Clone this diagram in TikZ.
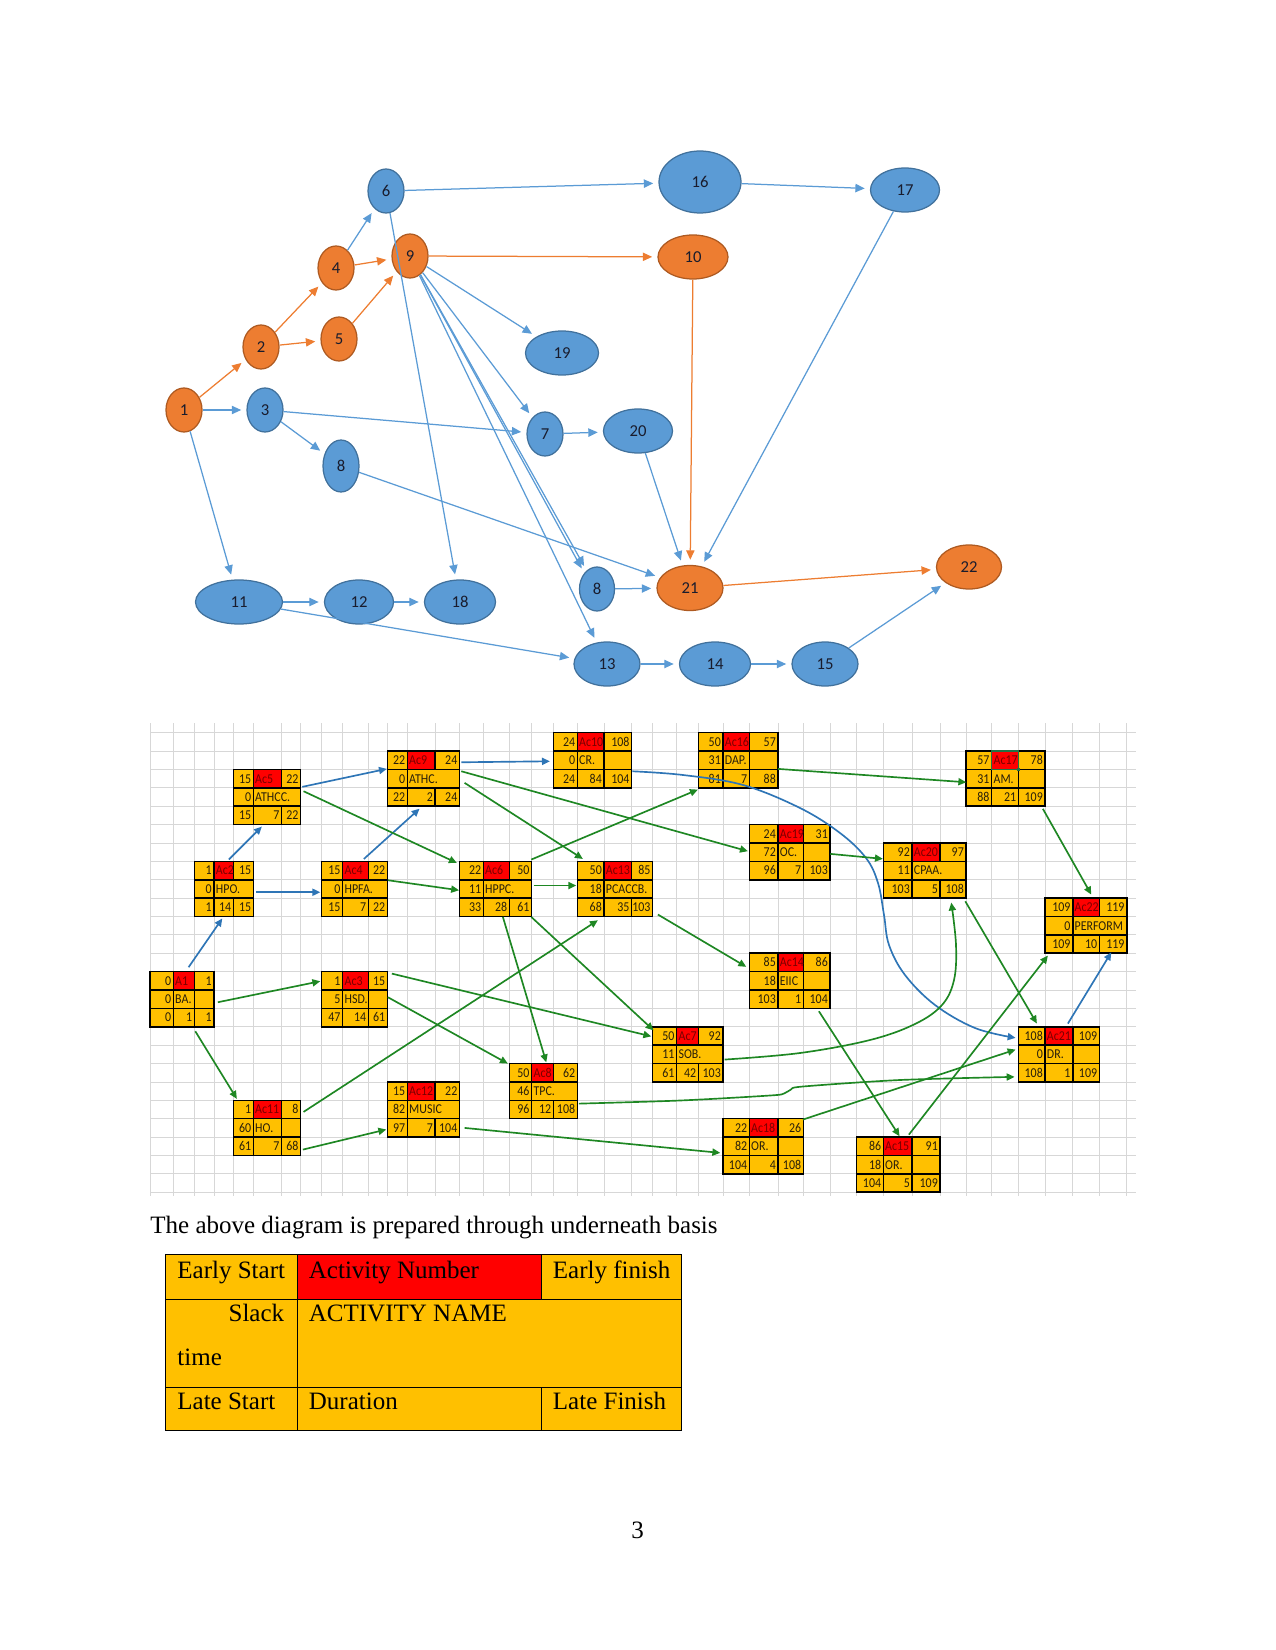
\documentclass[tikz,border=0pt]{standalone}
\usepackage{fontspec}
\setmainfont{Liberation Serif}
\newfontfamily\calib{Carlito}
\newfontfamily\cellf[FakeStretch=0.88]{Carlito}
\usetikzlibrary{shapes.geometric,arrows.meta,calc,fit}
\definecolor{nodeorange}{RGB}{237,125,49}
\definecolor{orangeline}{RGB}{174,90,33}
\definecolor{nodeblue}{RGB}{91,155,213}
\definecolor{blueline}{RGB}{65,113,156}
\definecolor{nodetext}{RGB}{25,28,45}
\definecolor{cellgold}{RGB}{255,192,0}
\definecolor{actred}{RGB}{255,0,0}
\definecolor{actdark}{RGB}{120,0,0}
\definecolor{celltext}{RGB}{40,30,10}
\definecolor{gridgray}{RGB}{215,215,215}
\definecolor{conblue}{RGB}{46,117,182}
\definecolor{congreen}{RGB}{30,135,35}
\definecolor{selgreen}{RGB}{33,115,70}

\newcommand\abox[7]{%
  \def\BN{#1}\def\XA{#2}\def\XB{#3}\def\XC{#4}\def\XD{#5}%
  \pgfmathsetmacro\YA{#6}\pgfmathsetmacro\YB{#6+18.38}\pgfmathsetmacro\YC{#6+36.76}\pgfmathsetmacro\YD{#6+55.14}%
  \fill[cellgold] (#2,\YA) rectangle (#5,\YD);
  \fill[actred] (#3,\YA) rectangle (#4,\YB);
  \draw[boxline] (#2,\YA) rectangle (#5,\YD) (#2,\YB) -- (#5,\YB) (#2,\YC) -- (#5,\YC) (#3,\YA) -- (#3,\YD) (#4,\YA) -- (#4,\YB) (#4,\YC) -- (#4,\YD);
  \ifnum#7=1 \draw[boxline] (#4,\YB) -- (#4,\YC);\fi
  \node[fit={(#2,\YA) (#5,\YD)}, inner sep=0pt] (#1) {};
}
\newcommand\atxt[8]{%
  \pgfmathsetmacro\RA{\YA+9.19}\pgfmathsetmacro\RB{\YB+9.19}\pgfmathsetmacro\RC{\YC+9.19}%
  \node[cnum] (\BN-es) at (\XB-1.8,\RA) {#1};
  \node[cact] (\BN-an) at (\XB+1.5,\RA) {#2};
  \node[cnum] (\BN-ef) at (\XD-1.8,\RA) {#3};
  \node[cnum] (\BN-sl) at (\XB-1.8,\RB) {#4};
  \node[cname] (\BN-nm) at (\XB+1.5,\RB) {#5};
  \node[cnum] (\BN-ls) at (\XB-1.8,\RC) {#6};
  \node[cnum] (\BN-du) at (\XC-1.8,\RC) {#7};
  \node[cnum] (\BN-lf) at (\XD-1.8,\RC) {#8};
}

\begin{document}
\begin{tikzpicture}[x=0.48pt,y=-0.48pt,
  onode/.style 2 args={ellipse, draw=orangeline, fill=nodeorange, line width=0.6pt, inner sep=0pt, minimum width=#1*0.48pt, minimum height=#2*0.48pt, font=\calib\fontsize{8}{9}\selectfont, text=nodetext},
  bnode/.style 2 args={ellipse, draw=blueline, fill=nodeblue, line width=0.6pt, inner sep=0pt, minimum width=#1*0.48pt, minimum height=#2*0.48pt, font=\calib\fontsize{8}{9}\selectfont, text=nodetext},
  oedge/.style={draw=nodeorange, line width=0.6pt, -{Triangle[length=4.5pt,width=4pt]}, shorten >=2.5pt},
  bedge/.style={draw=nodeblue, line width=0.6pt, -{Triangle[length=4.5pt,width=4pt]}, shorten >=2.5pt},
  gcon/.style={draw=congreen, line width=0.8pt, -{Triangle[length=3.8pt,width=3.4pt]}},
  bcon/.style={draw=conblue, line width=0.8pt, -{Triangle[length=3.8pt,width=3.4pt]}},
  boxline/.style={draw=black, line width=0.75pt},
  gridline/.style={draw=gridgray, line width=0.4pt},
  cnum/.style={anchor=east, inner sep=0pt, font=\cellf\fontsize{6.5}{7}\selectfont, text height=4.2pt, text depth=0pt, text=celltext},
  cact/.style={anchor=west, inner sep=0pt, font=\cellf\fontsize{6.5}{7}\selectfont, text height=4.2pt, text depth=0pt, text=actdark},
  cname/.style={anchor=west, inner sep=0pt, font=\cellf\fontsize{6.5}{7}\selectfont, text height=4.2pt, text depth=0pt, text=celltext},
  ttext/.style={inner sep=0pt, font=\fontsize{12}{14}\selectfont, text=black},
  tline/.style={draw=black, line width=0.45pt}
]
\useasboundingbox (0,0) rectangle (1275,1650);

% ---------------- top network ----------------
\node[onode={36}{44}] (n1) at (184,410) {1};
\node[onode={36}{44}] (n2) at (261,347) {2};
\node[bnode={36}{44}] (n3) at (265,410) {3};
\node[onode={36}{44}] (n4) at (336,268) {4};
\node[onode={36}{44}] (n5) at (339,339) {5};
\node[bnode={36}{44}] (n6) at (386,191) {6};
\node[onode={36}{44}] (n9) at (410,256) {9};
\node[onode={70}{44}] (n10) at (693,257) {10};
\node[bnode={82}{62}] (n16) at (700,182) {16};
\node[bnode={69}{44}] (n17) at (905,190) {17};
\node[bnode={73}{44}] (n19) at (562,353) {19};
\node[bnode={36}{44}] (n7) at (545,434) {7};
\node[bnode={69}{44}] (n20) at (638,431) {20};
\node[bnode={36}{52}] (n8a) at (341,466) {8};
\node[bnode={87}{44}] (n11) at (239,602) {11};
\node[bnode={69}{44}] (n12) at (359,602) {12};
\node[bnode={71}{44}] (n18) at (460,602) {18};
\node[bnode={35}{44}] (n8b) at (597,589) {8};
\node[onode={66}{45}] (n21) at (690,588) {21};
\node[onode={65}{44}] (n22) at (969,567) {22};
\node[bnode={66}{44}] (n13) at (607,664) {13};
\node[bnode={71}{44}] (n14) at (715,664) {14};
\node[bnode={66}{44}] (n15) at (825,664) {15};

\draw[oedge] (n1) -- (n2);
\draw[oedge] (n2) -- (n4);
\draw[oedge] (n2) -- (n5);
\draw[oedge] (n4) -- (n9);
\draw[oedge] (n5) -- (n9);
\draw[oedge] (n9) -- (n10);
\draw[oedge] (n10) -- (n21);
\draw[oedge] (n21) -- (n22);
\draw[bedge] (n1) -- (n3);
\draw[bedge] (n1) -- (n11);
\draw[bedge] (n3) -- (n7);
\draw[bedge] (n3) -- (n8a);
\draw[bedge] (n4) -- (n6);
\draw[bedge] (n6) -- (n16);
\draw[bedge] (n6) -- (n18);
\draw[bedge] (n16) -- (n17);
\draw[bedge] (n17) -- (n21);
\draw[bedge] (n9) -- (n19);
\draw[bedge] (n9) -- (n7);
\draw[bedge] (n9) -- (n8b);
\draw[bedge] (n9) -- (n8b.north west);
\draw[bedge] (n9) -- (n13);
\draw[bedge] (n7) -- (n20);
\draw[bedge] (n20) -- (n21);
\draw[bedge] (n8a) -- (n21);
\draw[bedge] (n8b) -- (n21);
\draw[bedge] (n11) -- (n12);
\draw[bedge] (n12) -- (n18);
\draw[bedge] (n11) -- (n13);
\draw[bedge] (n13) -- (n14);
\draw[bedge] (n14) -- (n15);
\draw[bedge] (n15) -- (n22);

% ---------------- grid ----------------
\begin{scope}
\clip (150,723) rectangle (1136,1196);
\foreach \k in {0,...,25} \draw[gridline] (150,{732.7+18.38*\k}) -- (1136,{732.7+18.38*\k});
\foreach \x in {150,173.3,194.3,214,233.3,253.3,281.7,300.7,321.7,342.7,368.3,387.3,407.3,435,459.5,483.3,509.3,531.7,553.3,577.3,604,631.7,652.7,676.7,698.3,723,749.3,778,803.3,830,856.7,883.3,912,940,966,991.7,1018.3,1045,1072.7,1099.3,1126.7}
  \draw[gridline] (\x,723) -- (\x,1196);
\end{scope}

% ---------------- activity boxes ----------------
\abox{ac1}{150}{173.3}{194.3}{214}{971.64}{1} \atxt{0}{A1}{1}{0}{BA.}{0}{1}{1}
\abox{ac2}{194.3}{214}{233.3}{253.3}{861.36}{0} \atxt{1}{Ac2}{15}{0}{HPO.}{1}{14}{15}
\abox{ac5}{233.3}{253.3}{281.7}{300.7}{769.46}{0} \atxt{15}{Ac5}{22}{0}{ATHCC.}{15}{7}{22}
\abox{ac4}{321.7}{342.7}{368.3}{387.3}{861.36}{0} \atxt{15}{Ac4}{22}{0}{HPFA.}{15}{7}{22}
\abox{ac3}{321.7}{342.7}{368.3}{387.3}{971.64}{1} \atxt{1}{Ac3}{15}{5}{HSD.}{47}{14}{61}
\abox{ac11}{233.3}{253.3}{281.7}{300.7}{1100.3}{1} \atxt{1}{Ac11}{8}{60}{HO.}{61}{7}{68}
\abox{ac9}{387.3}{407.3}{435}{459.5}{751.08}{0} \atxt{22}{Ac9}{24}{0}{ATHC.}{22}{2}{24}
\abox{ac12}{387.3}{407.3}{435}{459.5}{1081.92}{0} \atxt{15}{Ac12}{22}{82}{MUSIC}{97}{7}{104}
\abox{ac6}{459.5}{483.3}{509.3}{531.7}{861.36}{0} \atxt{22}{Ac6}{50}{11}{HPPC.}{33}{28}{61}
\abox{ac8}{509.3}{531.7}{553.3}{577.3}{1063.54}{0} \atxt{50}{Ac8}{62}{46}{TPC.}{96}{12}{108}
\abox{ac10}{553.3}{577.3}{604}{631.7}{732.7}{1} \atxt{24}{Ac10}{108}{0}{CR.}{24}{84}{104}
\abox{ac13}{577.3}{604}{631.7}{652.7}{861.36}{0} \atxt{50}{Ac13}{85}{18}{PCACCB.}{68}{35}{103}
\abox{ac7}{652.7}{676.7}{698.3}{723}{1026.78}{0} \atxt{50}{Ac7}{92}{11}{SOB.}{61}{42}{103}
\abox{ac16}{698.3}{723}{749.3}{778}{732.7}{1} \atxt{50}{Ac16}{57}{31}{DAP.}{81}{7}{88}
\abox{ac19}{749.3}{778}{803.3}{830}{824.6}{1} \atxt{24}{Ac19}{31}{72}{OC.}{96}{7}{103}
\abox{ac14}{749.3}{778}{803.3}{830}{953.26}{1} \atxt{85}{Ac14}{86}{18}{EIIC}{103}{1}{104}
\abox{ac18}{723}{749.3}{778}{803.3}{1118.68}{1} \atxt{22}{Ac18}{26}{82}{OR.}{104}{4}{108}
\abox{ac20}{883.3}{912}{940}{966}{842.98}{0} \atxt{92}{Ac20}{97}{11}{CPAA.}{103}{5}{108}
\abox{ac15}{856.7}{883.3}{912}{940}{1137.06}{1} \atxt{86}{Ac15}{91}{18}{OR.}{104}{5}{109}
\abox{ac17}{966}{991.7}{1018.3}{1045}{751.08}{1} \atxt{57}{Ac17}{78}{31}{AM.}{88}{21}{109}
\abox{ac21}{1018.3}{1045}{1072.7}{1099.3}{1026.78}{1} \atxt{108}{Ac21}{109}{0}{DR.}{108}{1}{109}
\abox{ac22}{1045}{1072.7}{1099.3}{1126.7}{898.12}{0} \atxt{109}{Ac22}{119}{0}{PERFORM}{109}{10}{119}

% selection mark on Ac17
\draw[draw=selgreen, line width=0.7pt] (991.7,751.08) rectangle (1018.3,769.46);
\fill[selgreen] (1016.6,767.8) rectangle (1020,771.2);

% ---------------- connectors ----------------
\draw[bcon] ($(ac1.north west)+(39,-4)$) -- ($(ac2.north west)+(28.4,57.5)$);
\draw[bcon] ($(ac2.north west)+(62,31.3)$) -- ($(ac4.north west)+(-1,31.3)$);
\draw[bcon] ($(ac2.north west)+(35,-1.5)$) -- ($(ac5.north west)+(29,57.5)$);
\draw[bcon] ($(ac4.north west)+(42.6,-2)$) -- ($(ac9.north west)+(32.7,58)$);
\draw[bcon] ($(ac5.north west)+(69.4,17.8)$) -- ($(ac9.north west)+(0,18.2)$);
\draw[bcon] ($(ac9.north west)+(74.4,11.6)$) -- ($(ac10.north west)+(-3,29)$);
\coordinate (c10s) at ($(ac10.north west)+(79.4,39)$);
\coordinate (c21b) at ($(ac21.north west)+(-2.3,11.5)$);
\draw[bcon] plot[smooth,tension=0.6] coordinates {(c10s) (683,775) (743,785) (800,808) (840,833) (866,858) (878,883) (884,915) (889,945) (905,975) (935,1005) (975,1028) (c21b)};
\draw[bcon] ($(ac21.north west)+(50,-2.8)$) -- ($(ac22.north west)+(66.7,54.6)$);

\draw[gcon] ($(ac1.north west)+(68.3,31)$) -- ($(ac3.north west)+(-1,10)$);
\draw[gcon] ($(ac1.north west)+(45.7,60)$) -- ($(ac11.north west)+(4,-1)$);
\draw[gcon] ($(ac11.north west)+(70.7,12)$) -- ($(ac13.north west)+(21,59.3)$);
\draw[gcon] ($(ac11.north west)+(70,49.7)$) -- ($(ac12.north west)+(-0.6,48)$);
\draw[gcon] ($(ac12.north west)+(77.7,46.4)$) -- ($(ac18.north west)+(-2.3,34.6)$);
\draw[gcon] ($(ac3.north west)+(70.6,2.4)$) -- ($(ac7.north west)+(-1,10)$);
\draw[gcon] ($(ac3.north west)+(66.6,26)$) -- ($(ac8.north west)+(-1,0.5)$);
\draw[gcon] ($(ac4.north west)+(66.6,19.3)$) -- ($(ac6.north west)+(0,29.3)$);
\draw[gcon] ($(ac5.north west)+(70.7,22.2)$) -- ($(ac6.north west)+(-2.2,2)$);
\draw[gcon] ($(ac9.north west)+(74.4,20.6)$) -- ($(ac19.north west)+(-1,27)$);
\draw[gcon] ($(ac9.north west)+(77.7,32.2)$) -- ($(ac13.north west)+(6,-2)$);
\draw[gcon] ($(ac6.north west)+(72.2,-1.4)$) -- ($(ac16.north west)+(0,57.3)$);
\draw[gcon] ($(ac6.north west)+(74.5,24.6)$) -- ($(ac13.north west)+(-0.6,24.6)$);
\draw[gcon] ($(ac6.north west)+(43.8,56)$) -- ($(ac8.north west)+(37.4,-0.8)$);
\draw[gcon] ($(ac6.north west)+(72.2,56)$) -- ($(ac7.north west)+(1.3,4)$);
\draw[gcon] ($(ac13.north west)+(81,53.6)$) -- ($(ac14.north west)+(-2.6,14)$);
\draw[gcon] ($(ac16.north west)+(80,36.6)$) -- ($(ac17.north west)+(0.7,31.6)$);
\draw[gcon] ($(ac19.north west)+(81.4,29.7)$) -- ($(ac20.north west)+(0,16.3)$);
\draw[gcon] ($(ac17.north west)+(77.3,58.2)$) -- ($(ac22.north west)+(46.7,-3.1)$);
\draw[gcon] ($(ac20.north west)+(82.4,58.7)$) -- ($(ac21.north west)+(19,-2.8)$);
\draw[gcon] ($(ac14.north west)+(70,58.4)$) -- ($(ac15.north west)+(43.3,-0.4)$);
\draw[gcon] ($(ac15.north west)+(52.6,-2)$) -- ($(ac22.north west)+(3.3,57.9)$);
\draw[gcon] ($(ac18.north west)+(80.3,1.3)$) -- ($(ac21.north west)+(-2.3,23.2)$);
\coordinate (c8s) at ($(ac8.north west)+(70,40.5)$);
\coordinate (c21a) at ($(ac21.north west)+(-3.3,50.5)$);
\draw[gcon] plot[smooth,tension=0.5] coordinates {(c8s) (680,1100.5) (770,1095.5) (784,1093.5) (791,1089.5) (803,1086.5) (900,1080) (c21a)};
\coordinate (c7s) at ($(ac7.north west)+(72.3,33.2)$);
\coordinate (c20a) at ($(ac20.north west)+(68.4,60)$);
\draw[gcon] plot[smooth,tension=0.6] coordinates {(c7s) (800,1053) (870,1040) (915,1024) (942,1005) (954,980) (956,945) (c20a)};

% ---------------- caption and legend table ----------------
\node[ttext, anchor=base west] (para) at (150,1233) {The above diagram is prepared through underneath basis};
\fill[cellgold] (165,1254) rectangle (681,1430);
\fill[actred] (297,1254) rectangle (541,1299);
\draw[tline] (165,1254) rectangle (681,1430) (165,1299) -- (681,1299) (165,1387) -- (681,1387) (297,1254) -- (297,1430) (541,1254) -- (541,1299) (541,1387) -- (541,1430);
\node[ttext, anchor=base west] (t-es) at (177,1278) {Early Start};
\node[ttext, anchor=base west] (t-an) at (308.5,1278) {Activity Number};
\node[ttext, anchor=base west] (t-ef) at (552.5,1278) {Early finish};
\node[ttext, anchor=base east] (t-sl) at (284.6,1321.7) {Slack};
\node[ttext, anchor=base west] (t-tm) at (177,1365.7) {time};
\node[ttext, anchor=base west] (t-nm) at (308.5,1321.7) {ACTIVITY NAME};
\node[ttext, anchor=base west] (t-ls) at (177,1409.3) {Late Start};
\node[ttext, anchor=base west] (t-du) at (308.5,1409.3) {Duration};
\node[ttext, anchor=base west] (t-lf) at (552.5,1409.3) {Late Finish};

\node[ttext, anchor=base] (pgnum) at (637.5,1538) {3};
\end{tikzpicture}
\end{document}
